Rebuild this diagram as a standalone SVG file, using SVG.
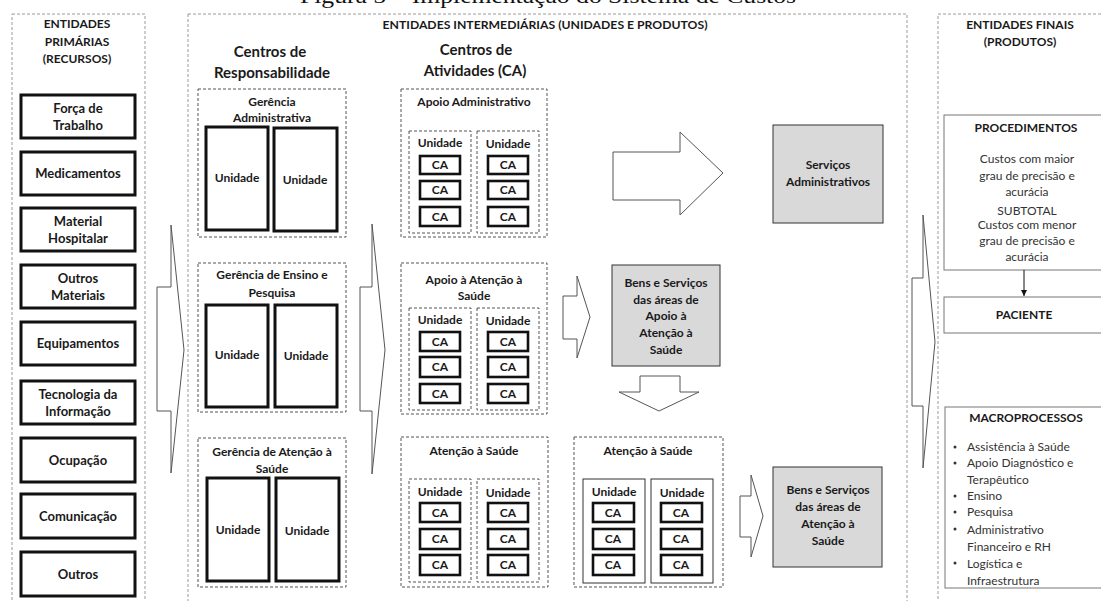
<svg xmlns="http://www.w3.org/2000/svg" width="1101" height="601" viewBox="0 0 1101 601">
<defs>
<style>
text{font-family:Lato,"Open Sans","Liberation Sans",sans-serif;fill:#1a1a1a;text-anchor:middle}
.b{font-weight:bold;font-size:13px}
.h{font-weight:bold;font-size:15px}
.t{font-weight:bold;font-size:12px}
.n{font-size:12px;fill:#333}
.nl{font-size:12px;fill:#333;text-anchor:start}
.panel{fill:none;stroke:#9a9a9a;stroke-width:1;stroke-dasharray:3 2}
.grp{fill:#fff;stroke:#555;stroke-width:1;stroke-dasharray:3 2}
.thick{fill:#fff;stroke:#111;stroke-width:3}
.ca{fill:#fff;stroke:#111;stroke-width:2.6}
.thin{fill:#fff;stroke:#333;stroke-width:1}
.gray{fill:#d9d9d9;stroke:#333;stroke-width:1}
.out{fill:#fff;stroke:#777;stroke-width:1}
.arr{fill:#fff;stroke:#555;stroke-width:1}
</style>
<marker id="ah" viewBox="0 0 10 10" refX="10" refY="5" markerWidth="6" markerHeight="6" orient="auto"><path d="M0,0 L10,5 L0,10 z" fill="#111"/></marker>
</defs>
<rect width="1101" height="601" fill="#fff"/>
<text x="548" y="3" style="font-family:'Liberation Serif',serif;font-size:22px;fill:#111" textLength="496" lengthAdjust="spacingAndGlyphs">Figura 5 – Implementação do Sistema de Custos</text>

<!-- panels -->
<g id="panel-primarias">
<rect class="panel" x="12" y="14" width="133" height="600"/>
<text class="t" x="77" y="28">ENTIDADES</text>
<text class="t" x="77" y="46">PRIMÁRIAS</text>
<text class="t" x="77" y="63">(RECURSOS)</text>
</g>
<g id="panel-intermediarias">
<rect class="panel" x="188" y="14" width="719" height="600"/>
<text class="t" x="545" y="29" textLength="325" lengthAdjust="spacingAndGlyphs">ENTIDADES INTERMEDIÁRIAS (UNIDADES E PRODUTOS)</text>
<text class="h" x="270" y="57">Centros de</text>
<text class="h" x="272" y="78">Responsabilidade</text>
<text class="h" x="476" y="55">Centros de</text>
<text class="h" x="475" y="76">Atividades (CA)</text>
</g>
<g id="panel-finais">
<rect class="panel" x="938" y="14" width="200" height="600"/>
<text class="t" x="1020" y="29">ENTIDADES FINAIS</text>
<text class="t" x="1020" y="46">(PRODUTOS)</text>
</g>

<!-- resources -->
<g id="r-forca"><rect class="thick" x="21" y="95" width="114" height="43"/><text class="b" x="78" y="113">Força de</text><text class="b" x="78" y="130">Trabalho</text></g>
<g id="r-medicamentos"><rect class="thick" x="21" y="152" width="114" height="43"/><text class="b" x="78" y="178">Medicamentos</text></g>
<g id="r-material"><rect class="thick" x="21" y="208" width="114" height="43"/><text class="b" x="78" y="226">Material</text><text class="b" x="78" y="243">Hospitalar</text></g>
<g id="r-outros-materiais"><rect class="thick" x="21" y="265" width="114" height="43"/><text class="b" x="78" y="283">Outros</text><text class="b" x="78" y="300">Materiais</text></g>
<g id="r-equipamentos"><rect class="thick" x="21" y="322" width="114" height="43"/><text class="b" x="78" y="348">Equipamentos</text></g>
<g id="r-tecnologia"><rect class="thick" x="21" y="381" width="114" height="43"/><text class="b" x="78" y="399">Tecnologia da</text><text class="b" x="78" y="416">Informação</text></g>
<g id="r-ocupacao"><rect class="thick" x="21" y="438" width="114" height="44"/><text class="b" x="78" y="465">Ocupação</text></g>
<g id="r-comunicacao"><rect class="thick" x="21" y="494" width="114" height="44"/><text class="b" x="78" y="521">Comunicação</text></g>
<g id="r-outros"><rect class="thick" x="21" y="552" width="114" height="44"/><text class="b" x="78" y="579">Outros</text></g>

<!-- responsibility centers -->
<g id="g-adm">
<rect class="grp" x="198" y="89" width="148" height="148"/>
<text class="t" x="272" y="106">Gerência</text>
<text class="t" x="272" y="122">Administrativa</text>
<rect class="thick" x="206" y="127" width="62" height="103"/><text class="t" x="237" y="182">Unidade</text>
<rect class="thick" x="274" y="128" width="63" height="103"/><text class="t" x="305" y="184">Unidade</text>
</g>
<g id="g-ensino">
<rect class="grp" x="198" y="263" width="148" height="149"/>
<text class="t" x="272" y="279">Gerência de Ensino e</text>
<text class="t" x="272" y="297">Pesquisa</text>
<rect class="thick" x="206" y="305" width="62" height="102"/><text class="t" x="237" y="359">Unidade</text>
<rect class="thick" x="275" y="305" width="62" height="102"/><text class="t" x="306" y="360">Unidade</text>
</g>
<g id="g-atencao">
<rect class="grp" x="198" y="438" width="148" height="149"/>
<text class="t" x="272" y="456">Gerência de Atenção à</text>
<text class="t" x="272" y="473">Saúde</text>
<rect class="thick" x="207" y="478" width="62" height="103"/><text class="t" x="238" y="534">Unidade</text>
<rect class="thick" x="276" y="478" width="63" height="103"/><text class="t" x="307" y="535">Unidade</text>
</g>

<!-- activity centers -->
<g id="ca-apoio-adm">
<rect class="grp" x="401" y="89" width="146" height="148"/>
<text class="t" x="474" y="106">Apoio Administrativo</text>
<rect class="grp" x="409" y="131" width="62" height="102"/><text class="t" x="440" y="147">Unidade</text>
<rect class="grp" x="477" y="131" width="62" height="102"/><text class="t" x="508" y="148">Unidade</text>
<rect class="ca" x="420" y="156" width="40" height="18"/><text class="t" x="440" y="169">CA</text>
<rect class="ca" x="420" y="181" width="40" height="18"/><text class="t" x="440" y="194">CA</text>
<rect class="ca" x="420" y="207" width="40" height="19"/><text class="t" x="440" y="221">CA</text>
<rect class="ca" x="488" y="156" width="40" height="18"/><text class="t" x="508" y="169">CA</text>
<rect class="ca" x="488" y="181" width="40" height="18"/><text class="t" x="508" y="194">CA</text>
<rect class="ca" x="488" y="207" width="40" height="19"/><text class="t" x="508" y="221">CA</text>
</g>
<g id="ca-apoio-atencao">
<rect class="grp" x="401" y="263" width="146" height="151"/>
<text class="t" x="474" y="284">Apoio à Atenção à</text>
<text class="t" x="474" y="300">Saúde</text>
<rect class="grp" x="409" y="308" width="62" height="102"/><text class="t" x="440" y="324">Unidade</text>
<rect class="grp" x="477" y="308" width="62" height="102"/><text class="t" x="508" y="325">Unidade</text>
<rect class="ca" x="420" y="332" width="40" height="19"/><text class="t" x="440" y="346">CA</text>
<rect class="ca" x="420" y="357" width="40" height="20"/><text class="t" x="440" y="371">CA</text>
<rect class="ca" x="420" y="384" width="40" height="19"/><text class="t" x="440" y="398">CA</text>
<rect class="ca" x="488" y="332" width="40" height="19"/><text class="t" x="508" y="346">CA</text>
<rect class="ca" x="488" y="357" width="40" height="20"/><text class="t" x="508" y="371">CA</text>
<rect class="ca" x="488" y="384" width="40" height="19"/><text class="t" x="508" y="398">CA</text>
</g>
<g id="ca-atencao">
<rect class="grp" x="401" y="437" width="147" height="150"/>
<text class="t" x="474" y="455">Atenção à Saúde</text>
<rect class="grp" x="409" y="479" width="62" height="103"/><text class="t" x="440" y="496">Unidade</text>
<rect class="grp" x="477" y="479" width="62" height="103"/><text class="t" x="508" y="497">Unidade</text>
<rect class="ca" x="420" y="503" width="40" height="19"/><text class="t" x="440" y="517">CA</text>
<rect class="ca" x="420" y="529" width="40" height="20"/><text class="t" x="440" y="543">CA</text>
<rect class="ca" x="420" y="555" width="40" height="20"/><text class="t" x="440" y="569">CA</text>
<rect class="ca" x="488" y="503" width="40" height="19"/><text class="t" x="508" y="517">CA</text>
<rect class="ca" x="488" y="529" width="40" height="20"/><text class="t" x="508" y="543">CA</text>
<rect class="ca" x="488" y="555" width="40" height="20"/><text class="t" x="508" y="569">CA</text>
</g>
<g id="ca-atencao-2">
<rect class="grp" x="574" y="437" width="149" height="150"/>
<text class="t" x="648" y="455">Atenção à Saúde</text>
<rect class="thin" x="583" y="479" width="62" height="104"/><text class="t" x="614" y="496">Unidade</text>
<rect class="thin" x="651" y="479" width="62" height="104"/><text class="t" x="682" y="497">Unidade</text>
<rect class="ca" x="593" y="503" width="41" height="19"/><text class="t" x="613" y="517">CA</text>
<rect class="ca" x="593" y="529" width="41" height="20"/><text class="t" x="613" y="543">CA</text>
<rect class="ca" x="593" y="555" width="41" height="20"/><text class="t" x="613" y="569">CA</text>
<rect class="ca" x="661" y="503" width="41" height="19"/><text class="t" x="681" y="517">CA</text>
<rect class="ca" x="661" y="529" width="41" height="20"/><text class="t" x="681" y="543">CA</text>
<rect class="ca" x="661" y="555" width="41" height="20"/><text class="t" x="681" y="569">CA</text>
</g>

<!-- products -->
<g id="p-servicos-adm">
<rect class="gray" x="773" y="125" width="110" height="98"/>
<text class="t" x="828" y="169">Serviços</text>
<text class="t" x="828" y="186">Administrativos</text>
</g>
<g id="p-apoio-atencao">
<rect class="gray" x="612" y="265" width="108" height="101"/>
<text class="t" x="666" y="287">Bens e Serviços</text>
<text class="t" x="666" y="304">das áreas  de</text>
<text class="t" x="666" y="320">Apoio à</text>
<text class="t" x="666" y="337">Atenção à</text>
<text class="t" x="666" y="354">Saúde</text>
</g>
<g id="p-atencao">
<rect class="gray" x="773" y="467" width="109" height="100"/>
<text class="t" x="828" y="494">Bens e Serviços</text>
<text class="t" x="828" y="511">das áreas  de</text>
<text class="t" x="828" y="528">Atenção à</text>
<text class="t" x="828" y="545">Saúde</text>
</g>

<!-- final entities -->
<g id="procedimentos">
<rect class="out" x="944" y="115" width="170" height="155"/>
<text class="t" x="1026" y="132">PROCEDIMENTOS</text>
<text class="n" x="1027" y="163">Custos com maior</text>
<text class="n" x="1027" y="180">grau de precisão e</text>
<text class="n" x="1027" y="196">acurácia</text>
<text class="n" x="1027" y="215">SUBTOTAL</text>
<text class="n" x="1027" y="229">Custos com menor</text>
<text class="n" x="1027" y="245">grau de precisão e</text>
<text class="n" x="1027" y="261">acurácia</text>
</g>
<g id="paciente">
<rect class="out" x="944" y="297" width="170" height="36"/>
<text class="t" x="1024" y="319">PACIENTE</text>
</g>
<g id="macroprocessos">
<rect class="out" x="945" y="407" width="170" height="181"/>
<text class="t" x="1026" y="422">MACROPROCESSOS</text>
<g fill="#333">
<circle cx="955" cy="447" r="1.5"/><circle cx="955" cy="463" r="1.5"/><circle cx="955" cy="496" r="1.5"/><circle cx="955" cy="512" r="1.5"/><circle cx="955" cy="529" r="1.5"/><circle cx="955" cy="563" r="1.5"/>
</g>
<text class="nl" x="967" y="451">Assistência à Saúde</text>
<text class="nl" x="967" y="467">Apoio Diagnóstico e</text>
<text class="nl" x="967" y="484">Terapêutico</text>
<text class="nl" x="967" y="500">Ensino</text>
<text class="nl" x="967" y="516">Pesquisa</text>
<text class="nl" x="967" y="534">Administrativo</text>
<text class="nl" x="967" y="551">Financeiro e RH</text>
<text class="nl" x="967" y="568">Logística e</text>
<text class="nl" x="967" y="585">Infraestrutura</text>
</g>

<!-- connectors -->
<g id="connectors">
<polygon class="arr" points="157,287 171,287 171,225 184,350 171,473 171,411 157,411"/>
<polygon class="arr" points="360,287 372,287 372,224 385,350 372,474 372,411 360,411"/>
<polygon class="arr" points="912,278 923,278 923,215 935,342 923,468 923,406 912,406"/>
<polygon class="arr" points="613,152 680,152 680,132 723,173 680,215 680,200 613,200"/>
<polygon class="arr" points="563,296 577,296 577,276 590,317 577,358 577,339 563,339"/>
<polygon class="arr" points="640,376 680,376 680,392 699,392 659,411 619,392 640,392"/>
<polygon class="arr" points="740,496 751,496 751,475 763,516 751,557 751,537 740,537"/>
<line x1="1024" y1="270" x2="1024" y2="296" stroke="#111" stroke-width="1" marker-end="url(#ah)"/>
</g>
</svg>
